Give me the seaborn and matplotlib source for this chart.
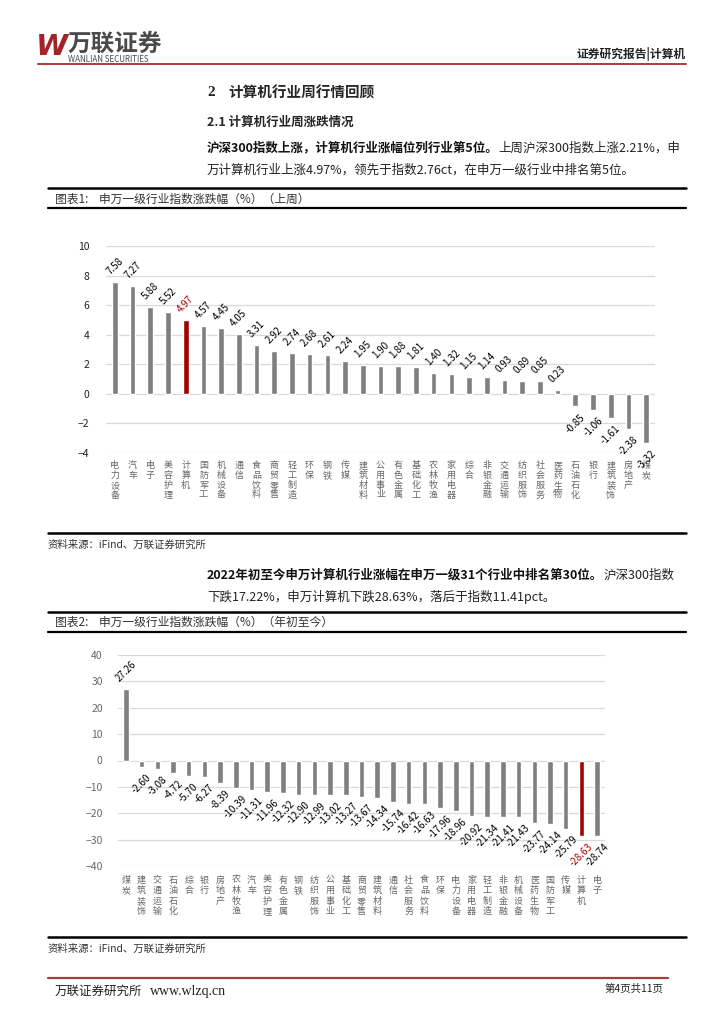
import pandas as pd
import seaborn as sns
import matplotlib.pyplot as plt
from matplotlib.lines import Line2D

# 上周：申万一级行业涨跌幅（%）
week_names = ['电力设备', '汽车', '电子', '美容护理', '计算机', '国防军工', '机械设备', '通信',
              '食品饮料', '商贸零售', '轻工制造', '环保', '钢铁', '传媒', '建筑材料', '公用事业',
              '有色金属', '基础化工', '农林牧渔', '家用电器', '综合', '非银金融', '交通运输',
              '纺织服饰', '社会服务', '医药生物', '石油石化', '银行', '建筑装饰', '房地产', '煤炭']
week_values = [7.58, 7.27, 5.88, 5.52, 4.97, 4.57, 4.45, 4.05, 3.31, 2.92, 2.74, 2.68, 2.61,
               2.24, 1.95, 1.90, 1.88, 1.81, 1.40, 1.32, 1.15, 1.14, 0.93, 0.89, 0.85, 0.23,
               -0.85, -1.06, -1.61, -2.38, -3.32]

# 年初至今：申万一级行业涨跌幅（%）
ytd_names = ['煤炭', '建筑装饰', '交通运输', '石油石化', '综合', '银行', '房地产', '农林牧渔',
             '汽车', '美容护理', '有色金属', '钢铁', '纺织服饰', '公用事业', '基础化工', '商贸零售',
             '建筑材料', '通信', '社会服务', '食品饮料', '环保', '电力设备', '家用电器', '轻工制造',
             '非银金融', '机械设备', '医药生物', '国防军工', '传媒', '计算机', '电子']
ytd_values = [27.26, -2.60, -3.08, -4.72, -5.70, -6.27, -8.39, -10.39, -11.31, -11.96, -12.32,
              -12.90, -12.99, -13.02, -13.27, -13.67, -14.34, -15.74, -16.42, -16.63, -17.96,
              -18.96, -20.92, -21.34, -21.41, -21.43, -23.77, -24.14, -25.79, -28.63, -28.74]

week_ticks = [-4, -2, 0, 2, 4, 6, 8, 10]
ytd_ticks = [-40, -30, -20, -10, 0, 10, 20, 30, 40]
highlight = '计算机'

GREY = '#7f7f7f'
RED = '#a50000'

sns.set_theme(style='white')
plt.rcParams['font.family'] = ['Noto Sans CJK SC', 'DejaVu Sans']
plt.rcParams['axes.unicode_minus'] = False

W, H = 724, 1024
fig = plt.figure(figsize=(W / 100, H / 100), dpi=100)


def fx(x):
    return x / W


def fy(y):
    return 1 - y / H


def hline(y, x0, x1, lw=1.0, color='black'):
    fig.add_artist(Line2D([fx(x0), fx(x1)], [fy(y), fy(y)], lw=lw, color=color,
                          transform=fig.transFigure))


def text(x, y, s, **kw):
    kw.setdefault('va', 'center')
    return fig.text(fx(x), fy(y), s, **kw)


def two_part(x, y, bold, normal, size=9):
    # 粗体开头 + 常规正文
    r = fig.canvas.get_renderer()
    t = text(x, y, bold, fontsize=size, weight='bold', color='#111111')
    bb = t.get_window_extent(renderer=r)
    text(bb.x1, y, normal, fontsize=size, color='#222222')


def draw_chart(x0, y0, x1, y1, names, values, ylim, yticks, width, tick_color, ypad, xpad, lsp):
    ax = fig.add_axes([fx(x0), fy(y1), fx(x1) - fx(x0), fy(y0) - fy(y1)])
    df = pd.DataFrame({'name': names, 'value': values})
    pal = {n: (RED if n == highlight else GREY) for n in names}
    sns.barplot(data=df, x='name', y='value', hue='name', palette=pal, legend=False,
                width=width, saturation=1, ax=ax)
    for name, c in zip(names, ax.containers):
        ax.bar_label(c, fmt='%.2f', rotation=45, padding=4, fontsize=7,
                     color=RED if name == highlight else 'black')
    ax.set_ylim(*ylim)
    ax.set_xlim(-0.5, len(names) - 0.5)
    ax.set_yticks(yticks)
    ax.set_yticklabels([str(t) if t >= 0 else '−' + str(-t) for t in yticks])
    ax.set_xticks(range(len(names)))
    ax.set_xticklabels(['\n'.join(n) for n in names], fontsize=6.5, color='#666666',
                       linespacing=lsp, va='top')
    ax.tick_params(axis='x', length=0, pad=xpad)
    ax.tick_params(axis='y', length=0, pad=ypad, labelsize=7.5, labelcolor=tick_color)
    ax.yaxis.grid(True, color='#d9d9d9', lw=0.9)
    ax.set_axisbelow(True)
    ax.set_xlabel('')
    ax.set_ylabel('')
    sns.despine(ax=ax, left=True, bottom=True)
    return ax


# 页眉
text(36, 47, 'W', fontsize=21, weight='bold', style='italic', color='#a3232a', family='DejaVu Sans')
text(68, 44, '万联证券', fontsize=17, weight='bold', color='#4a4a4a')
text(68, 60, 'WANLIAN SECURITIES', fontsize=5.8, color='#4a4a4a')
text(686, 54, '证券研究报告|计算机', fontsize=8.5, weight='bold', ha='right', color='#222222')
hline(64, 38, 686, lw=1.4, color='#b03a3a')

# 标题与正文
text(207, 93, '2', fontsize=11, weight='bold', family='Liberation Serif')
text(228, 93, '计算机行业周行情回顾', fontsize=10.5, weight='bold')
text(207, 122, '2.1 计算机行业周涨跌情况', fontsize=9, weight='bold')
two_part(207, 148, '沪深300指数上涨，计算机行业涨幅位列行业第5位。', '上周沪深300指数上涨2.21%，申')
text(207, 170, '万计算机行业上涨4.97%，领先于指数2.76ct，在申万一级行业中排名第5位。',
     fontsize=9, color='#222222')

# 图表1
hline(188, 48, 686, lw=1.8)
text(55, 199, '图表1:    申万一级行业指数涨跌幅（%）（上周）', fontsize=8.5, color='#333333')
hline(208, 48, 686, lw=1.6)
draw_chart(106, 246, 655, 453, week_names, week_values, (-4, 10), week_ticks,
           0.32, '#222222', 12, 6, 1.1)
hline(533, 48, 686, lw=1.8)
text(48, 545, '资料来源：iFind、万联证券研究所', fontsize=7.5, style='italic', color='#333333')

# 第二段
two_part(207, 575, '2022年初至今申万计算机行业涨幅在申万一级31个行业中排名第30位。', '沪深300指数')
text(207, 597, '下跌17.22%，申万计算机下跌28.63%，落后于指数11.41pct。',
     fontsize=9, color='#222222')

# 图表2
hline(612, 48, 686, lw=1.8)
text(55, 622, '图表2:    申万一级行业指数涨跌幅（%）（年初至今）', fontsize=8.5, color='#333333')
hline(632, 48, 686, lw=1.6)
draw_chart(118, 655, 605, 866, ytd_names, ytd_values, (-40, 40), ytd_ticks,
           0.35, '#666666', 11, 7, 1.2)
hline(937, 48, 686, lw=1.8)
text(48, 949, '资料来源：iFind、万联证券研究所', fontsize=7.5, style='italic', color='#333333')

# 页脚
hline(978, 48, 668, lw=1.6, color='#b03a3a')
text(55, 991, '万联证券研究所', fontsize=9, color='#222222')
text(150, 991, 'www.wlzq.cn', fontsize=10, color='#222222', family='Liberation Serif')
text(663, 989, '第4页共11页', fontsize=7.5, ha='right', color='#222222')

fig.savefig('out.png', dpi=100)
